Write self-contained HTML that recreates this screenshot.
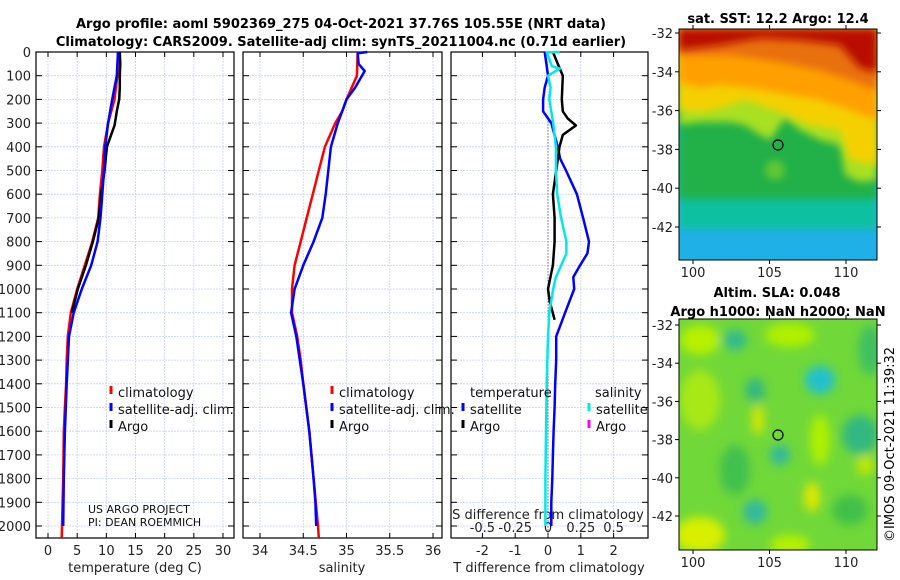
<!DOCTYPE html>
<html><head><meta charset="utf-8">
<style>
html,body{margin:0;padding:0;background:#fff;}
svg{display:block;font-family:"DejaVu Sans","Liberation Sans",sans-serif;}
</style></head>
<body>
<svg id="fig" width="900" height="580" viewBox="0 0 900 580" xmlns="http://www.w3.org/2000/svg">
<defs>
<filter id="blur1" x="-20%" y="-20%" width="140%" height="140%"><feGaussianBlur stdDeviation="4"/></filter>
<filter id="blur2" x="-20%" y="-20%" width="140%" height="140%"><feGaussianBlur stdDeviation="5"/></filter>
<clipPath id="clipA"><rect x="679" y="29" width="198" height="231"/></clipPath>
<clipPath id="clipB"><rect x="679" y="319" width="198" height="231"/></clipPath>
</defs>
<text x="341" y="28" font-size="13" font-weight="bold" text-anchor="middle">Argo profile: aoml 5902369_275 04-Oct-2021 37.76S 105.55E (NRT data)</text>
<text x="341" y="46" font-size="13" font-weight="bold" text-anchor="middle">Climatology: CARS2009. Satellite-adj clim: synTS_20211004.nc (0.71d earlier)</text>

<!-- SST map -->
<g clip-path="url(#clipA)">
<rect x="679" y="29" width="198" height="231" fill="#20b0e8"/>
<rect x="679" y="29" width="198" height="200" fill="#10c0a0" filter="url(#blur1)"/>
<rect x="679" y="29" width="198" height="170" fill="#20b048" filter="url(#blur1)"/>
<path d="M679 29 H877 V180 L860 182 L845 175 L840 145 L820 140 L800 130 L785 118 L770 140 L760 135 L745 125 L730 122 L700 122 L679 125 Z" fill="#a8e020" filter="url(#blur1)"/>
<path d="M679 29 H877 V165 L850 160 L840 130 L810 125 L780 112 L760 105 L745 100 L720 108 L700 112 L679 110 Z" fill="#f5d000" filter="url(#blur1)"/>
<path d="M679 29 H877 V120 L850 110 L820 100 L790 95 L750 88 L720 85 L700 88 L679 82 Z" fill="#ffa000" filter="url(#blur1)"/>
<path d="M679 29 H877 V90 L850 80 L820 70 L780 62 L730 55 L679 55 Z" fill="#e87010" filter="url(#blur1)"/>
<path d="M679 29 H877 V72 L860 68 L840 45 L800 40 L760 38 L720 45 L679 50 Z" fill="#b81000" filter="url(#blur1)"/>
<ellipse cx="775" cy="170" rx="10" ry="10" fill="#60c830" filter="url(#blur1)"/>
</g>
<rect x="679" y="29" width="198" height="231" fill="none" stroke="#000" stroke-width="1"/>
<circle cx="778" cy="145" r="5" fill="none" stroke="#000" stroke-width="1.2"/>
<text x="778" y="23" font-size="13" font-weight="bold" text-anchor="middle">sat. SST: 12.2 Argo: 12.4</text>

<!-- SLA map -->
<g clip-path="url(#clipB)">
<rect x="679" y="319" width="198" height="231" fill="#70d838"/>
<g filter="url(#blur2)">
<ellipse cx="700" cy="340" rx="20" ry="15" fill="#b8f000"/>
<ellipse cx="790" cy="335" rx="25" ry="12" fill="#b0f000"/>
<ellipse cx="870" cy="350" rx="12" ry="25" fill="#40c060"/>
<ellipse cx="735" cy="340" rx="12" ry="10" fill="#30b890"/>
<ellipse cx="820" cy="380" rx="15" ry="14" fill="#20c0d0"/>
<ellipse cx="755" cy="390" rx="10" ry="12" fill="#30b880"/>
<ellipse cx="758" cy="420" rx="6" ry="15" fill="#d8e800"/>
<ellipse cx="700" cy="400" rx="20" ry="30" fill="#a8e818"/>
<ellipse cx="780" cy="455" rx="10" ry="10" fill="#30b8a0"/>
<ellipse cx="860" cy="435" rx="18" ry="20" fill="#30b880"/>
<ellipse cx="865" cy="465" rx="8" ry="10" fill="#c8e800"/>
<ellipse cx="735" cy="470" rx="15" ry="25" fill="#40c050"/>
<ellipse cx="812" cy="497" rx="8" ry="15" fill="#e0e800"/>
<ellipse cx="755" cy="512" rx="12" ry="12" fill="#30b8a0"/>
<ellipse cx="700" cy="535" rx="25" ry="18" fill="#d8f000"/>
<ellipse cx="850" cy="510" rx="18" ry="15" fill="#40c048"/>
<ellipse cx="820" cy="440" rx="10" ry="25" fill="#b0f000"/>
<ellipse cx="790" cy="545" rx="20" ry="10" fill="#b8f000"/>
</g>
</g>
<rect x="679" y="319" width="198" height="231" fill="none" stroke="#000" stroke-width="1"/>
<circle cx="778" cy="435" r="5" fill="none" stroke="#000" stroke-width="1.2"/>
<text x="777" y="297" font-size="13" font-weight="bold" text-anchor="middle">Altim. SLA: 0.048</text>
<text x="778" y="316" font-size="13" font-weight="bold" text-anchor="middle">Argo h1000: NaN h2000: NaN</text>
<text transform="translate(894,542) rotate(-90)" font-size="13">©IMOS 09-Oct-2021 11:39:32</text>
<g id="dyn"></g>
</svg>
<script>
// ---- data ----
const depthTicks=[0,100,200,300,400,500,600,700,800,900,1000,1100,1200,1300,1400,1500,1600,1700,1800,1900,2000];
const tempTicks=[0,5,10,15,20,25,30];
const salTicks=[34,34.5,35,35.5,36];
const salTickLabels=["34","34.5","35","35.5","36"];
const tdiffTicks=[-2,-1,0,1,2];
const sdiffTicks=[-0.5,-0.25,0,0.25,0.5];
const sdiffTickLabels=["-0.5","-0.25","0","0.25","0.5"];

const climTDepth=[0,100,200,300,400,500,600,700,800,900,1000,1100,1200,1300,1400,1500,1600,1700,1800,1900,2000,2050];
const climTVal=[12.0,11.9,11.4,10.3,9.6,9.3,8.9,8.6,7.6,6.3,5.0,3.9,3.4,3.2,3.1,2.9,2.7,2.65,2.6,2.5,2.4,2.35];
const satTDepth=[0,100,200,300,400,500,600,700,800,900,1000,1100,1200,1400,1600,1800,2000];
const satTVal=[12.0,11.8,11.0,10.3,9.8,9.6,9.3,9.0,8.5,7.4,5.8,4.4,3.6,3.2,2.9,2.7,2.6];
const argoTDepth=[0,50,100,150,200,250,280,310,330,400,500,600,700,800,900,1000,1100];
const argoTVal=[12.3,12.4,12.3,12.3,12.2,11.8,11.6,11.4,11.1,10.1,9.7,9.1,8.7,7.7,6.5,5.1,4.1];

const climSDepth=[0,100,200,250,300,400,500,600,700,800,900,1000,1100,1200,1300,1400,1600,1800,2000,2050];
const climSVal=[35.13,35.12,35.0,34.95,34.87,34.75,34.68,34.61,34.54,34.47,34.4,34.37,34.37,34.43,34.47,34.5,34.57,34.62,34.67,34.68];
const satSDepth=[0,5,50,80,150,200,250,300,400,500,600,700,800,900,1000,1100,1200,1400,1600,1800,1900,2000];
const satSVal=[35.24,35.13,35.14,35.21,35.1,35.0,34.95,34.9,34.82,34.79,34.76,34.72,34.62,34.5,34.4,34.36,34.42,34.5,34.57,34.62,34.64,34.65];

const tdiffSatDepth=[0,50,100,150,200,250,300,400,450,500,600,700,800,850,900,950,1000,1090,1200,1300,1400,1500,1600,1700,1800,1900,2000];
const tdiffSatVal=[-0.1,-0.05,0,-0.1,-0.15,-0.15,0.1,0.3,0.37,0.55,0.88,1.07,1.25,1.2,0.98,0.77,0.8,0.55,0.25,0.25,0.22,0.2,0.17,0.15,0.13,0.1,0.1];
const tdiffArgoDepth=[0,50,100,200,250,280,310,350,400,500,600,700,800,900,1000,1050,1130];
const tdiffArgoVal=[0.15,0.3,0.45,0.42,0.45,0.6,0.85,0.45,0.35,0.25,0.15,0.2,0.2,0.15,0.0,0.05,0.2];
const sdiffSatDepth=[0,2,60,70,100,150,200,300,400,500,600,700,800,850,950,1000,1100,1200,1400,1600,1800,2000];
const sdiffSatVal=[0.09,-0.01,0.03,0.09,0.0,0.02,0.01,0.04,0.06,0.06,0.07,0.1,0.14,0.14,0.06,0.04,0.01,0.0,-0.01,-0.015,-0.02,-0.02];

const latTicks=[-32,-34,-36,-38,-40,-42];
const lonTicks=[100,105,110];

// ---- drawing ----
const NS='http://www.w3.org/2000/svg';
const root=document.getElementById('dyn');
function mk(tag,attrs,parent){const e=document.createElementNS(NS,tag);for(const k in attrs)e.setAttribute(k,attrs[k]);(parent||root).appendChild(e);return e;}
const Y0=52, YPER=0.237; // px per dbar
const PB=538;
function yD(d){return Y0+d*YPER;}
function lin(d0,d1,r0,r1){return v=>r0+(v-d0)/(d1-d0)*(r1-r0);}
const xT=lin(0,30,48,223);
const xS=lin(34,36,260,433);
const xTd=lin(0,1,548,580.8);
const xSd=v=>xTd(v*4);
function poly(xs,ds,fx,color,w,name){
  const pts=xs.map((v,i)=>fx(v).toFixed(1)+','+yD(ds[i]).toFixed(1)).join(' ');
  const p=mk('polyline',{points:pts,fill:'none',stroke:color,'stroke-width':w,'stroke-linejoin':'round'});
  
  
  return p;
}
function panel(x0,x1,xt,ticks,labels,name){
  const g=mk('g',{});
  
  
  depthTicks.forEach(d=>{mk('line',{x1:x0,x2:x1,y1:yD(d),y2:yD(d),stroke:'#c8d0f0','stroke-width':0.8,'stroke-dasharray':'2,1'},g);
    mk('line',{x1:x0,x2:x0+6,y1:yD(d),y2:yD(d),stroke:'#000'},g);mk('line',{x1:x1-6,x2:x1,y1:yD(d),y2:yD(d),stroke:'#000'},g);});
  ticks.forEach((t,i)=>{const x=xt(t);mk('line',{x1:x,x2:x,y1:Y0,y2:PB,stroke:'#c8d0f0','stroke-width':0.8,'stroke-dasharray':'2,1'},g);
    mk('line',{x1:x,x2:x,y1:PB-5,y2:PB,stroke:'#000'},g);mk('line',{x1:x,x2:x,y1:Y0,y2:Y0+5,stroke:'#000'},g);
    const t2=mk('text',{x:x,y:555,'font-size':13,'text-anchor':'middle',fill:'#222'},g);t2.textContent=labels[i];
    
    
  });
  mk('rect',{x:x0,y:Y0,width:x1-x0,height:PB-Y0,fill:'none',stroke:'#000','stroke-width':1.2},g);
  return g;
}
panel(36,234,xT,tempTicks,tempTicks.map(String),'temperature-panel');
panel(243,442,xS,salTicks,salTickLabels,'salinity-panel');
panel(451,648,xTd,tdiffTicks,tdiffTicks.map(String),'difference-panel');
// depth labels
depthTicks.forEach(d=>{const t=mk('text',{x:31,y:yD(d)+5,'font-size':13,'text-anchor':'end',fill:'#222'});t.textContent=d;
  
  });
// S diff top-of-bottom axis labels
sdiffTicks.forEach((s,i)=>{const x=xSd(s);const t=mk('text',{x:x,y:532,'font-size':13,'text-anchor':'middle',fill:'#222'});t.textContent=sdiffTickLabels[i];
  
  });
// axis titles
[[135,'temperature (deg C)','temperature-axis-title'],[342,'salinity','salinity-axis-title'],[549,'T difference from climatology','tdiff-axis-title']].forEach(a=>{
  const t=mk('text',{x:a[0],y:572,'font-size':13,'text-anchor':'middle',fill:'#222'});t.textContent=a[1];
  
  });
const st=mk('text',{x:548,y:519,'font-size':13,'text-anchor':'middle',fill:'#222'});st.textContent='S difference from climatology';


// zero line
const zl=mk('line',{x1:548,x2:548,y1:yD(280),y2:PB,stroke:'#404040','stroke-width':1,'stroke-dasharray':'1,2'});


// series
poly(climTVal,climTDepth,xT,'#ff0000',2.5,'temp-climatology-line');
poly(argoTVal,argoTDepth,xT,'#000000',2.5,'temp-argo-line');
poly(satTVal,satTDepth,xT,'#0000ff',2.5,'temp-satellite-line');
poly(climSVal,climSDepth,xS,'#ff0000',2.5,'sal-climatology-line');
poly(satSVal,satSDepth,xS,'#0000ff',2.5,'sal-satellite-line');
poly(tdiffSatVal,tdiffSatDepth,xTd,'#0000ff',2.5,'tdiff-satellite-line');
poly(tdiffArgoVal,tdiffArgoDepth,xTd,'#000000',2.5,'tdiff-argo-line');
poly(sdiffSatVal,sdiffSatDepth,xSd,'#00e8e8',2.5,'sdiff-satellite-line');
// legends
function leg(x,y,color,label,name){
  const g=mk('g',{});
  
  
  mk('line',{x1:x,x2:x,y1:y-11,y2:y-3,stroke:color,'stroke-width':3},g);
  const t=mk('text',{x:x+7,y:y,'font-size':13,fill:'#111'},g);t.textContent=label;
}
leg(111,397,'#ff0000','climatology','legend-climatology');
leg(111,414,'#0000ff','satellite-adj. clim.','legend-satellite-adj');
leg(111,431,'#000000','Argo','legend-argo');
leg(332,397,'#ff0000','climatology','legend-climatology-2');
leg(332,414,'#0000ff','satellite-adj. clim.','legend-satellite-adj-2');
leg(332,431,'#000000','Argo','legend-argo-2');
const lt=mk('text',{x:470,y:397,'font-size':13,fill:'#111'});lt.textContent='temperature';


const ls=mk('text',{x:595,y:397,'font-size':13,fill:'#111'});ls.textContent='salinity';


leg(463,414,'#0000ff','satellite','legend-tdiff-satellite');
leg(463,431,'#000000','Argo','legend-tdiff-argo');
leg(589,414,'#00e8e8','satellite','legend-sdiff-satellite');
leg(589,431,'#ff00ff','Argo','legend-sdiff-argo');
// credit
const c1=mk('text',{x:88,y:513,'font-size':11,fill:'#111'});c1.textContent='US ARGO PROJECT';


const c2=mk('text',{x:88,y:526,'font-size':11,fill:'#111'});c2.textContent='PI: DEAN ROEMMICH';


// map axes
const latY1=lin(-32,-42,33,227), latY2=lin(-32,-42,325,516), lonX=lin(100,110,693,846);
[[latY1,29,260],[latY2,319,550]].forEach(m=>{
  latTicks.forEach(l=>{const y=m[0](l);
    mk('line',{x1:679,x2:675,y1:y,y2:y,stroke:'#000'});mk('line',{x1:877,x2:881,y1:y,y2:y,stroke:'#000'});
    const t=mk('text',{x:673,y:y+5,'font-size':13,'text-anchor':'end',fill:'#222'});t.textContent=l;
    
    });
  lonTicks.forEach(l=>{const x=lonX(l);
    mk('line',{x1:x,x2:x,y1:m[2],y2:m[2]+4,stroke:'#000'});mk('line',{x1:x,x2:x,y1:m[1],y2:m[1]-4,stroke:'#000'});
    const t=mk('text',{x:x,y:m[2]+17,'font-size':13,'text-anchor':'middle',fill:'#222'});t.textContent=l;
    
    });
});
</script>
</body></html>
